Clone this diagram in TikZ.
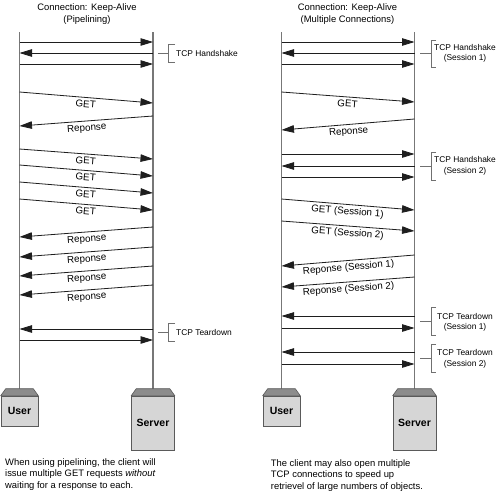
\documentclass[tikz,border=0pt]{standalone}
\usepackage{fontspec}
\setmainfont{Liberation Sans}
\usetikzlibrary{arrows.meta}
\definecolor{lifec}{HTML}{777777}
\definecolor{msgc}{HTML}{1E1E1E}
\definecolor{brkc}{HTML}{707070}
\definecolor{bodyc}{HTML}{D6D6D6}
\definecolor{topc}{HTML}{8C8C8C}
\definecolor{edgec}{HTML}{5A5A5A}
\tikzset{
 life/.style={draw=lifec, line width=1.5pt},
 msgline/.style={draw=msgc, line width=0.8pt, -{Triangle[length=12.5pt,width=7.5pt]}},
 lbl/.style={midway, sloped, below=2.5pt, inner sep=0pt, font=\fontsize{9.8}{11}\selectfont, text height=7pt, text depth=2pt},
 brk/.style={draw=brkc, line width=0.7pt},
 ann/.style={font=\fontsize{8.4}{10.5}\selectfont, align=center, inner sep=0pt, anchor=north},
 annL/.style={font=\fontsize{8.4}{10.5}\selectfont, anchor=base west, inner sep=0pt},
 ttl/.style={font=\fontsize{9.4}{11.7}\selectfont, align=center, inner sep=0pt, anchor=north},
 note/.style={font=\fontsize{9.4}{11.3}\selectfont, align=left, anchor=north west, inner sep=0pt},
 body/.style={draw=edgec, fill=bodyc, line width=0.6pt, inner sep=0pt, font=\fontsize{10.5}{12}\selectfont\bfseries},
 boxtop/.style={draw=edgec, fill=topc, line width=0.6pt, line join=round},
}
\newcommand\msgto[6]{\coordinate (#1a) at (#2,#3); \coordinate (#1b) at (#4,#5); \draw[msgline] (#1a) -- (#1b) #6;}
\newcommand\topcap[1]{\filldraw[boxtop] (#1.north west) -- ([shift={(5pt,7pt)}]#1.north west) -- ([shift={(-5pt,7pt)}]#1.north east) -- (#1.north east) -- cycle;}
\def\LU{19.5}
\def\LS{153}
\def\RU{281.5}
\def\RS{414.5}
\begin{document}
\begin{tikzpicture}[x=1pt,y=-1pt]
\useasboundingbox[fill=white] (0,0) rectangle (500,491);
% titles
\node[ttl] (tL) at (87,3.5) {Connection: Keep-Alive\\(Pipelining)};
\node[ttl] (tR) at (347.5,3.5) {Connection: Keep-Alive\\(Multiple Connections)};
% boxes
\node[body, minimum width=37pt, minimum height=30pt] (LUser) at (\LU,411) {User};
\node[body, minimum width=43pt, minimum height=54pt] (LServer) at (\LS,423) {Server};
\node[body, minimum width=37pt, minimum height=30pt] (RUser) at (\RU,411) {User};
\node[body, minimum width=43pt, minimum height=54pt] (RServer) at (\RS,423) {Server};
% lifelines
\coordinate (LUtop) at (\LU,32);
\coordinate (LStop) at (\LS,32);
\coordinate (RUtop) at (\RU,32);
\coordinate (RStop) at (\RS,32);
\draw[life] (LUtop) -- ([yshift=7pt]LUser.north);
\draw[life] (LStop) -- ([yshift=7pt]LServer.north);
\draw[life] (RUtop) -- ([yshift=7pt]RUser.north);
\draw[life] (RStop) -- ([yshift=7pt]RServer.north);
\topcap{LUser}\topcap{LServer}\topcap{RUser}\topcap{RServer}
% left messages
\msgto{l1}{\LU}{42}{\LS}{42}{}
\msgto{l2}{\LS}{53}{\LU}{53}{}
\msgto{l3}{\LU}{64}{\LS}{64}{}
\msgto{l4}{\LU}{92}{\LS}{103}{node[lbl]{GET}}
\msgto{l5}{\LS}{116}{\LU}{126}{node[lbl]{Reponse}}
\msgto{l6}{\LU}{149}{\LS}{159}{node[lbl]{GET}}
\msgto{l7}{\LU}{165}{\LS}{176}{node[lbl]{GET}}
\msgto{l8}{\LU}{182}{\LS}{193}{node[lbl]{GET}}
\msgto{l9}{\LU}{199}{\LS}{210}{node[lbl]{GET}}
\msgto{l10}{\LS}{227}{\LU}{237}{node[lbl]{Reponse}}
\msgto{l11}{\LS}{247}{\LU}{257}{node[lbl]{Reponse}}
\msgto{l12}{\LS}{266}{\LU}{276}{node[lbl]{Reponse}}
\msgto{l13}{\LS}{285}{\LU}{295}{node[lbl]{Reponse}}
\msgto{l14}{\LS}{329}{\LU}{329}{}
\msgto{l15}{\LU}{340}{\LS}{340}{}
% right messages
\msgto{r1}{\RU}{42}{\RS}{42}{}
\msgto{r2}{\RS}{53}{\RU}{53}{}
\msgto{r3}{\RU}{64}{\RS}{64}{}
\msgto{r4}{\RU}{92}{\RS}{102}{node[lbl]{GET}}
\msgto{r5}{\RS}{119}{\RU}{130}{node[lbl]{Reponse}}
\msgto{r6}{\RU}{154}{\RS}{154}{}
\msgto{r7}{\RS}{166}{\RU}{166}{}
\msgto{r8}{\RU}{177}{\RS}{177}{}
\msgto{r9}{\RU}{199}{\RS}{210}{node[lbl]{GET (Session 1)}}
\msgto{r10}{\RU}{221}{\RS}{231}{node[lbl]{GET (Session 2)}}
\msgto{r11}{\RS}{255}{\RU}{266}{node[lbl]{Reponse (Session 1)}}
\msgto{r12}{\RS}{277}{\RU}{287}{node[lbl]{Reponse (Session 2)}}
\msgto{r13}{\RS}{316}{\RU}{316}{}
\msgto{r14}{\RU}{328}{\RS}{328}{}
\msgto{r15}{\RS}{352}{\RU}{352}{}
\msgto{r16}{\RU}{364}{\RS}{364}{}
% brackets left
\draw[brk] (158,53) -- (168.5,53) (175,44) -- (168.5,44) -- (168.5,62) -- (175,62);
\node[annL] (hL) at (176,56) {TCP Handshake};
\draw[brk] (158,332) -- (168.5,332) (175,323) -- (168.5,323) -- (168.5,341) -- (175,341);
\node[annL] (tdL) at (176,335) {TCP Teardown};
% brackets right
\draw[brk] (420,53) -- (431,53) (436,40) -- (431,40) -- (431,67) -- (436,67);
\node[ann] (hR1) at (465,44) {TCP Handshake\\(Session 1)};
\draw[brk] (420,166) -- (431,166) (436,152) -- (431,152) -- (431,180) -- (436,180);
\node[ann] (hR2) at (465,156.5) {TCP Handshake\\(Session 2)};
\draw[brk] (420,321.5) -- (431,321.5) (436,307) -- (431,307) -- (431,335) -- (436,335);
\node[ann] (tdR1) at (465,313) {TCP Teardown\\(Session 1)};
\draw[brk] (420,358) -- (431,358) (436,344) -- (431,344) -- (431,372) -- (436,372);
\node[ann] (tdR2) at (465,349.3) {TCP Teardown\\(Session 2)};
% notes
\node[note] (nL) at (5,458.6) {When using pipelining, the client will\\issue multiple GET requests \textit{without}\\waiting for a response to each.};
\node[note] (nR) at (270.7,459.6) {The client may also open multiple\\TCP connections to speed up\\retrievel of large numbers of objects.};
\end{tikzpicture}
\end{document}
